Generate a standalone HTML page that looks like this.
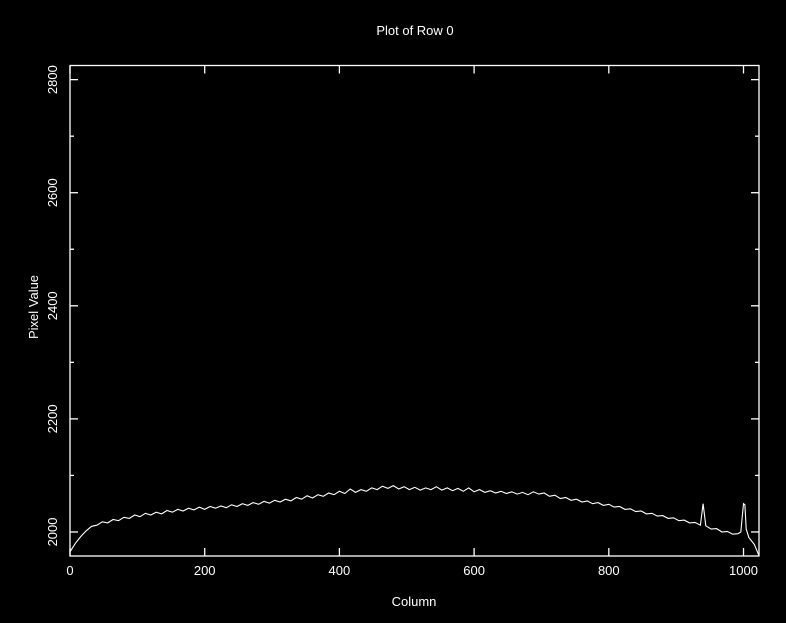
<!DOCTYPE html>
<html><head><meta charset="utf-8"><style>
html,body{margin:0;padding:0;background:#000;}
svg{display:block;}
text{font-family:"Liberation Sans",sans-serif;fill:#fff;font-size:13px;}
</style></head><body>
<svg id="chart" width="786" height="623">
<rect x="0" y="0" width="786" height="623" fill="#000"/>
<text x="415" y="35" text-anchor="middle">Plot of Row 0</text>
<text x="414" y="606" text-anchor="middle">Column</text>
<text x="0" y="0" transform="translate(38,307) rotate(-90)" text-anchor="middle">Pixel Value</text>
<g id="axes"></g>
<g id="series"></g>
</svg>
<script>
const xTicks=[0,200,400,600,800,1000];
const yTicks=[2000,2200,2400,2600,2800];
const yMinorTicks=[2100,2300,2500,2700];
const columns=[0,8,16,24,32,40,48,56,64,72,80,88,96,104,112,120,128,136,144,152,160,168,176,184,192,200,208,216,224,232,240,248,256,264,272,280,288,296,304,312,320,328,336,344,352,360,368,376,384,392,400,408,416,424,432,440,448,456,464,472,480,488,496,504,512,520,528,536,544,552,560,568,576,584,592,600,608,616,624,632,640,648,656,664,672,680,688,696,704,712,720,728,736,744,752,760,768,776,784,792,800,808,816,824,832,840,848,856,864,872,880,888,896,904,912,920,928,936,940,944,952,960,968,976,984,992,996,1000,1002,1004,1008,1016,1023];
const pixelValues=[1965,1980,1992,2002,2010,2012,2018,2016,2022,2020,2026,2024,2030,2027,2033,2030,2035,2032,2038,2035,2040,2037,2042,2039,2044,2040,2045,2042,2046,2043,2048,2045,2050,2047,2052,2049,2054,2051,2056,2053,2058,2055,2061,2058,2064,2060,2066,2063,2069,2066,2072,2068,2076,2070,2075,2072,2078,2075,2081,2077,2082,2076,2080,2075,2079,2074,2078,2075,2080,2074,2078,2073,2077,2072,2078,2071,2075,2070,2073,2069,2072,2068,2071,2067,2070,2066,2071,2067,2069,2063,2065,2059,2061,2056,2058,2053,2055,2050,2052,2047,2049,2044,2045,2040,2041,2036,2037,2032,2033,2028,2029,2024,2025,2020,2021,2016,2017,2012,2050,2011,2005,2006,2000,2001,1996,1997,2000,2050,2048,2005,1990,1978,1958];

const L=70,R=759,T=65.5,B=556;
const X0=0,X1=1023,Y0=1957.5,Y1=2825;
const sx=v=>L+(v-X0)/(X1-X0)*(R-L);
const sy=v=>B-(v-Y0)/(Y1-Y0)*(B-T);
const NS='http://www.w3.org/2000/svg';
const axes=document.getElementById('axes');
function mk(tag,attrs,parent){const e=document.createElementNS(NS,tag);for(const k in attrs)e.setAttribute(k,attrs[k]);parent.appendChild(e);return e;}
const frame=mk('rect',{x:L,y:T,width:R-L,height:B-T,fill:'none',stroke:'#fff','stroke-width':1.3},axes);


xTicks.forEach(v=>{
  const x=sx(v);
  const t1=mk('line',{x1:x,y1:B,x2:x,y2:B-8,stroke:'#fff','stroke-width':1.3},axes);
  
  
  const t2=mk('line',{x1:x,y1:T,x2:x,y2:T+8,stroke:'#fff','stroke-width':1.3},axes);
  
  
  const lb=mk('text',{x:x,y:B+19,'text-anchor':'middle'},axes);
  lb.textContent=v;
  
  
});
yTicks.forEach(v=>{
  const y=sy(v);
  const t1=mk('line',{x1:L,y1:y,x2:L+8,y2:y,stroke:'#fff','stroke-width':1.3},axes);
  
  
  const t2=mk('line',{x1:R,y1:y,x2:R-8,y2:y,stroke:'#fff','stroke-width':1.3},axes);
  
  
  const lb=mk('text',{x:0,y:0,'text-anchor':'middle',transform:`translate(${L-13},${y}) rotate(-90)`},axes);
  lb.textContent=v;
  
  
});
yMinorTicks.forEach(v=>{
  const y=sy(v);
  const t1=mk('line',{x1:L,y1:y,x2:L+4,y2:y,stroke:'#fff','stroke-width':1.3},axes);
  
  
  const t2=mk('line',{x1:R,y1:y,x2:R-4,y2:y,stroke:'#fff','stroke-width':1.3},axes);
  
  
});
const pts=columns.map((c,i)=>sx(c).toFixed(1)+','+sy(pixelValues[i]).toFixed(1)).join(' ');
const line=mk('polyline',{points:pts,fill:'none',stroke:'#fff','stroke-width':1.1},document.getElementById('series'));


</script>
</body></html>
